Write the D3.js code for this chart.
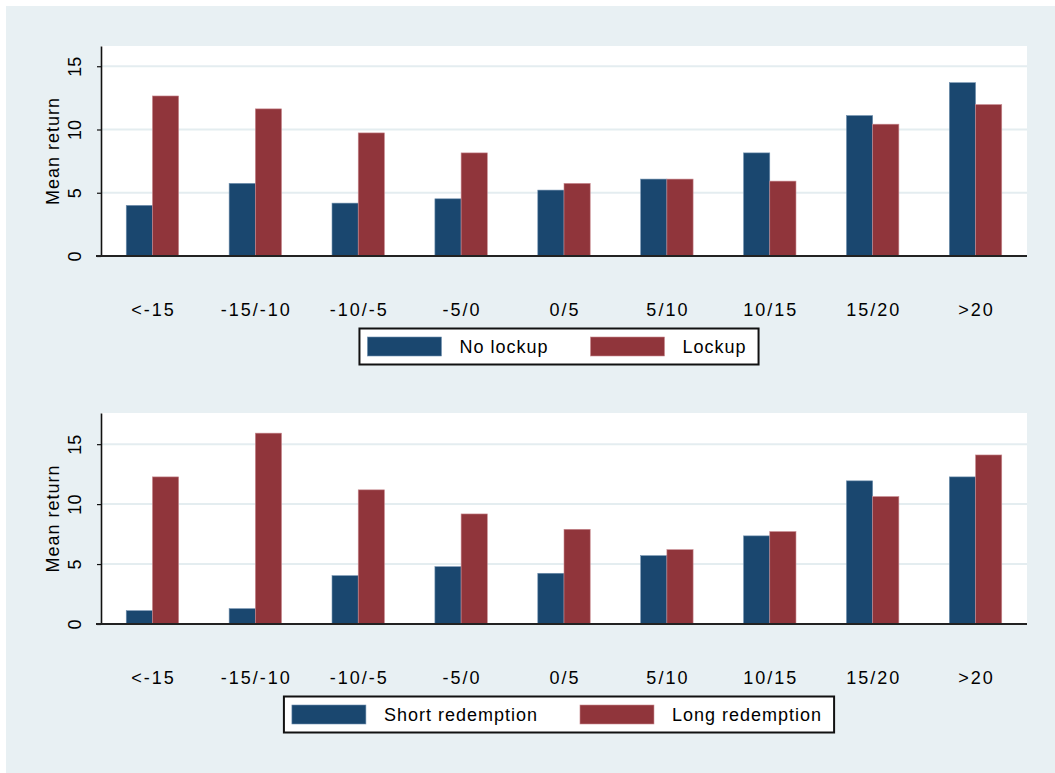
<!DOCTYPE html>
<html>
<head>
<meta charset="utf-8">
<script src="https://cdn.jsdelivr.net/npm/d3@7"></script>
<style>
  body { margin: 0; background: #fff; }
  svg { display: block; font-family: "Liberation Sans", Arial, sans-serif; }
</style>
</head>
<body>
<div id="chart"></div>
<script>
// data
const categories = ["<-15", "-15/-10", "-10/-5", "-5/0", "0/5", "5/10", "10/15", "15/20", ">20"];
const noLockup = [4.0, 5.74, 4.18, 4.52, 5.21, 6.08, 8.15, 11.1, 13.7];
const lockup = [12.65, 11.63, 9.73, 8.15, 5.74, 6.08, 5.92, 10.42, 11.97];
const shortRedemption = [1.11, 1.28, 4.03, 4.78, 4.23, 5.7, 7.35, 11.94, 12.27];
const longRedemption = [12.27, 15.92, 11.19, 9.18, 7.9, 6.2, 7.71, 10.63, 14.1];
const yTicks = [0, 5, 10, 15];

const width = 1055;
const height = 773;
const navy = "#1a476f";
const maroon = "#90353b";

const svg = d3.select("#chart")
  .append("svg")
  .attr("width", width)
  .attr("height", height);

// graph region background
svg.append("rect")
  .attr("x", 6)
  .attr("y", 6)
  .attr("width", width - 6)
  .attr("height", height - 6)
  .attr("fill", "#e8f0f3");

const x = d3.scaleBand()
  .domain(categories)
  .range([101, 1027])
  .paddingInner(0)
  .paddingOuter(0);

const barW = 26.2;

function drawPanel(opts) {
  const y = d3.scaleLinear()
    .domain([0, opts.yMax])
    .range([opts.bottom, opts.top]);

  const g = svg.append("g");

  // plot region
  g.append("rect")
    .attr("x", 101)
    .attr("y", opts.top)
    .attr("width", 1027 - 101)
    .attr("height", opts.bottom - opts.top)
    .attr("fill", "#fff");

  // gridlines
  g.append("g")
    .selectAll("line")
    .data(yTicks.filter((d) => d > 0))
    .enter()
    .append("line")
    .attr("x1", 101)
    .attr("x2", 1027)
    .attr("y1", (d) => y(d))
    .attr("y2", (d) => y(d))
    .attr("stroke", "#e4edf0")
    .attr("stroke-width", 2);

  const series = [
    { name: opts.names[0], values: opts.series[0], color: navy, edge: "#6f8fae", off: -barW },
    { name: opts.names[1], values: opts.series[1], color: maroon, edge: "#c98a90", off: 0 },
  ];

  series.forEach((s) => {
    g.append("g")
      .selectAll("rect")
      .data(categories)
      .enter()
      .append("rect")
      .attr("x", (d) => x(d) + x.bandwidth() / 2 + s.off)
      .attr("y", (d, i) => y(s.values[i]))
      .attr("width", barW)
      .attr("height", (d, i) => opts.bottom - y(s.values[i]))
      .attr("fill", s.color)
      .attr("stroke", s.edge)
      .attr("stroke-width", 0.6);
  });

  // y axis
  const yAxis = g.append("g")
    .attr("transform", "translate(101,0)")
    .call(d3.axisLeft(y).tickValues(yTicks).tickSize(4).tickSizeOuter(0).tickFormat(d3.format("d")));
  yAxis.select(".domain").attr("stroke", "#111").attr("stroke-width", 1.6);
  yAxis.selectAll(".tick line").attr("stroke", "#111").attr("stroke-width", 1.2);
  yAxis.selectAll(".tick text")
    .attr("x", null)
    .attr("dy", null)
    .attr("transform", "translate(-26,0) rotate(-90)")
    .attr("text-anchor", "middle")
    .attr("dominant-baseline", "central")
    .attr("fill", "#000")
    .style("font-size", "18px")
    .style("font-family", "'Liberation Sans', Arial, sans-serif");

  // x axis
  const xAxis = g.append("g")
    .attr("transform", `translate(0,${opts.bottom})`)
    .call(d3.axisBottom(x).tickSize(0).tickSizeOuter(0));
  xAxis.select(".domain").remove();
  g.append("line")
    .attr("x1", 96)
    .attr("x2", 1027)
    .attr("y1", opts.bottom)
    .attr("y2", opts.bottom)
    .attr("stroke", "#222")
    .attr("stroke-width", 2);
  xAxis.selectAll(".tick text")
    .attr("y", 54)
    .attr("dy", null)
    .attr("dx", 1)
    .attr("dominant-baseline", "central")
    .attr("fill", "#000")
    .style("font-size", "18px")
    .style("letter-spacing", "2px")
    .style("font-family", "'Liberation Sans', Arial, sans-serif");

  // y title
  g.append("text")
    .attr("transform", `translate(53,${(opts.top + opts.bottom) / 2}) rotate(-90)`)
    .attr("text-anchor", "middle")
    .attr("dominant-baseline", "central")
    .style("font-size", "18px")
    .style("letter-spacing", "1px")
    .text("Mean return");

  // legend
  const leg = g.append("g");
  const box = leg.append("rect")
    .attr("y", opts.bottom + 72.5)
    .attr("height", 36)
    .attr("fill", "#fff")
    .attr("stroke", "#111")
    .attr("stroke-width", 2);

  const items = series.map((s) => {
    const it = leg.append("g");
    it.append("rect")
      .attr("width", 74)
      .attr("height", 19)
      .attr("y", opts.bottom + 72.5 + 8.5)
      .attr("fill", s.color)
      .attr("stroke", s.edge)
      .attr("stroke-width", 0.6);
    const t = it.append("text")
      .attr("x", 92)
      .attr("y", opts.bottom + 72.5 + 18)
      .attr("dominant-baseline", "central")
      .style("font-size", "18px")
      .style("letter-spacing", "1px")
      .text(s.name);
    return { g: it, w: t.node().getComputedTextLength() };
  });

  const maxW = d3.max(items, (d) => d.w);
  const colW = 74 + 18 + maxW + 42;
  const legW = 8 + colW + 74 + 18 + items[1].w + 12;
  const legX = 559 - legW / 2;
  box.attr("x", legX).attr("width", legW);
  items[0].g.attr("transform", `translate(${legX + 8},0)`);
  items[1].g.attr("transform", `translate(${legX + 8 + colW},0)`);
}

drawPanel({
  top: 46,
  bottom: 256,
  yMax: 16.6,
  series: [noLockup, lockup],
  names: ["No lockup", "Lockup"],
});

drawPanel({
  top: 413,
  bottom: 624,
  yMax: 17.6,
  series: [shortRedemption, longRedemption],
  names: ["Short redemption", "Long redemption"],
});
</script>
</body>
</html>
